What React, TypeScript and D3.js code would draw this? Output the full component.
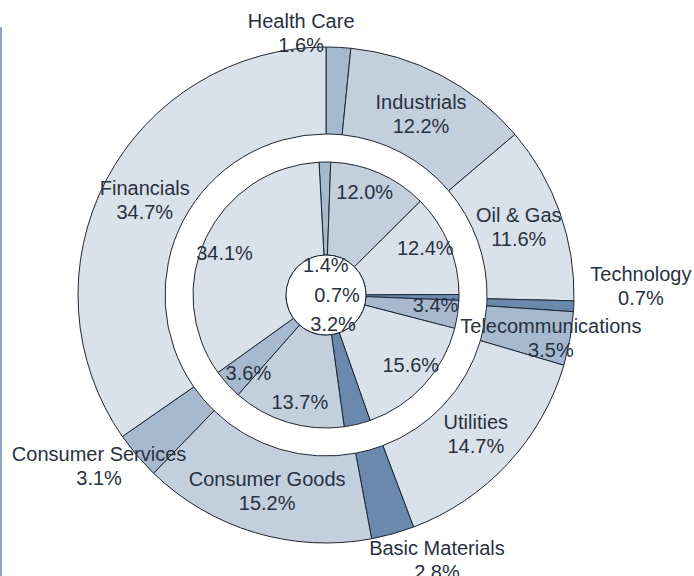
import React from 'react';
import * as d3 from 'd3';

// sectors, clockwise from 12 o'clock
const categories = [
  'Health Care', 'Industrials', 'Oil & Gas', 'Technology', 'Telecommunications',
  'Utilities', 'Basic Materials', 'Consumer Goods', 'Consumer Services', 'Financials'
];
const outerValues = [1.6, 12.2, 11.6, 0.7, 3.5, 14.7, 2.8, 15.2, 3.1, 34.7];
const innerValues = [1.4, 12.0, 12.4, 0.7, 3.4, 15.6, 3.2, 13.7, 3.6, 34.1];

const shades = ['#a7b9cf', '#c3cfdd', '#d9e1ea', '#6a89ad', '#a7b9cf',
  '#d9e1ea', '#6a89ad', '#c3cfdd', '#a7b9cf', '#d9e1ea'];

// label placement for the narrow outer sectors: angle shift (deg) and radius
const outsideLabel: Record<string, { da: number; r: number }> = {
  'Health Care': { da: -8.3, r: 263 },
  'Technology': { da: -4.2, r: 315 },
  'Telecommunications': { da: 0.7, r: 229 },
  'Basic Materials': { da: -7.1, r: 287 },
  'Consumer Services': { da: 3.4, r: 284 }
};

const W = 694, H = 576;
const cx = 326, cy = 295;
const R = 248, R2 = 161, r1 = 133, hole = 40;
const deg = Math.PI / 180;
const innerTurn = -3 * deg;
const ink = '#29313f';
const font = '"Liberation Sans", Arial, sans-serif';

const polar = (a: number, r: number): [number, number] => [Math.sin(a) * r, -Math.cos(a) * r];

export default function App() {
  const pieOuter = d3.pie<number>().sort(null).value(d => d)(outerValues);
  const pieInner = d3.pie<number>().sort(null).value(d => d)
    .startAngle(innerTurn).endAngle(innerTurn + 2 * Math.PI)(innerValues);

  const arcOuter = d3.arc<d3.PieArcDatum<number>>().innerRadius(R2).outerRadius(R);
  const arcInner = d3.arc<d3.PieArcDatum<number>>().innerRadius(hole).outerRadius(r1);

  const fmt = (v: number) => v.toFixed(1) + '%';

  return (
    <svg width={W} height={H} style={{ position: 'absolute', left: 0, top: 0, background: '#fff' }}>
      <rect x={0} y={27} width={2} height={H - 27} fill="#8fa6cc" />
      <g transform={`translate(${cx},${cy})`}>
        {pieOuter.map((d, i) => (
          <path key={'o' + i} d={arcOuter(d) || ''} fill={shades[i]} stroke="#1e2633" strokeWidth={1} />
        ))}
        {pieInner.map((d, i) => (
          <path key={'i' + i} d={arcInner(d) || ''} fill={shades[i]} stroke="#1e2633" strokeWidth={1} />
        ))}
        <circle r={hole} fill="#fff" stroke="#1e2633" strokeWidth={1} />

        <g fontFamily={font} fontSize={20} fill={ink} textAnchor="middle" dominantBaseline="central">
          {pieOuter.map((d, i) => {
            const name = categories[i];
            const mid = (d.startAngle + d.endAngle) / 2;
            const o = outsideLabel[name];
            const [x, y] = o
              ? polar(mid + o.da * deg, o.r)
              : polar(mid, (R + R2) / 2);
            return (
              <text key={'ot' + i} x={x} y={y}>
                <tspan x={x} y={y - 12}>{name}</tspan>
                <tspan x={x} y={y + 12}>{fmt(outerValues[i])}</tspan>
              </text>
            );
          })}
          {pieInner.map((d, i) => {
            const v = innerValues[i];
            let mid = (d.startAngle + d.endAngle) / 2;
            let r = 110;
            if (v < 3.3) {
              // too narrow: put the value inside the hole
              const halfW = 23, halfH = 8;
              const s = Math.abs(Math.sin(mid)), c = Math.abs(Math.cos(mid));
              r = Math.min(30, s > 1e-3 ? (hole - 6 - halfW) / s : 99, c > 1e-3 ? (hole - 2 - halfH) / c : 99);
            } else {
              mid -= 3 * deg;
            }
            const [x, y] = polar(mid, r);
            return <text key={'it' + i} x={x} y={y}>{fmt(v)}</text>;
          })}
        </g>
      </g>
    </svg>
  );
}
